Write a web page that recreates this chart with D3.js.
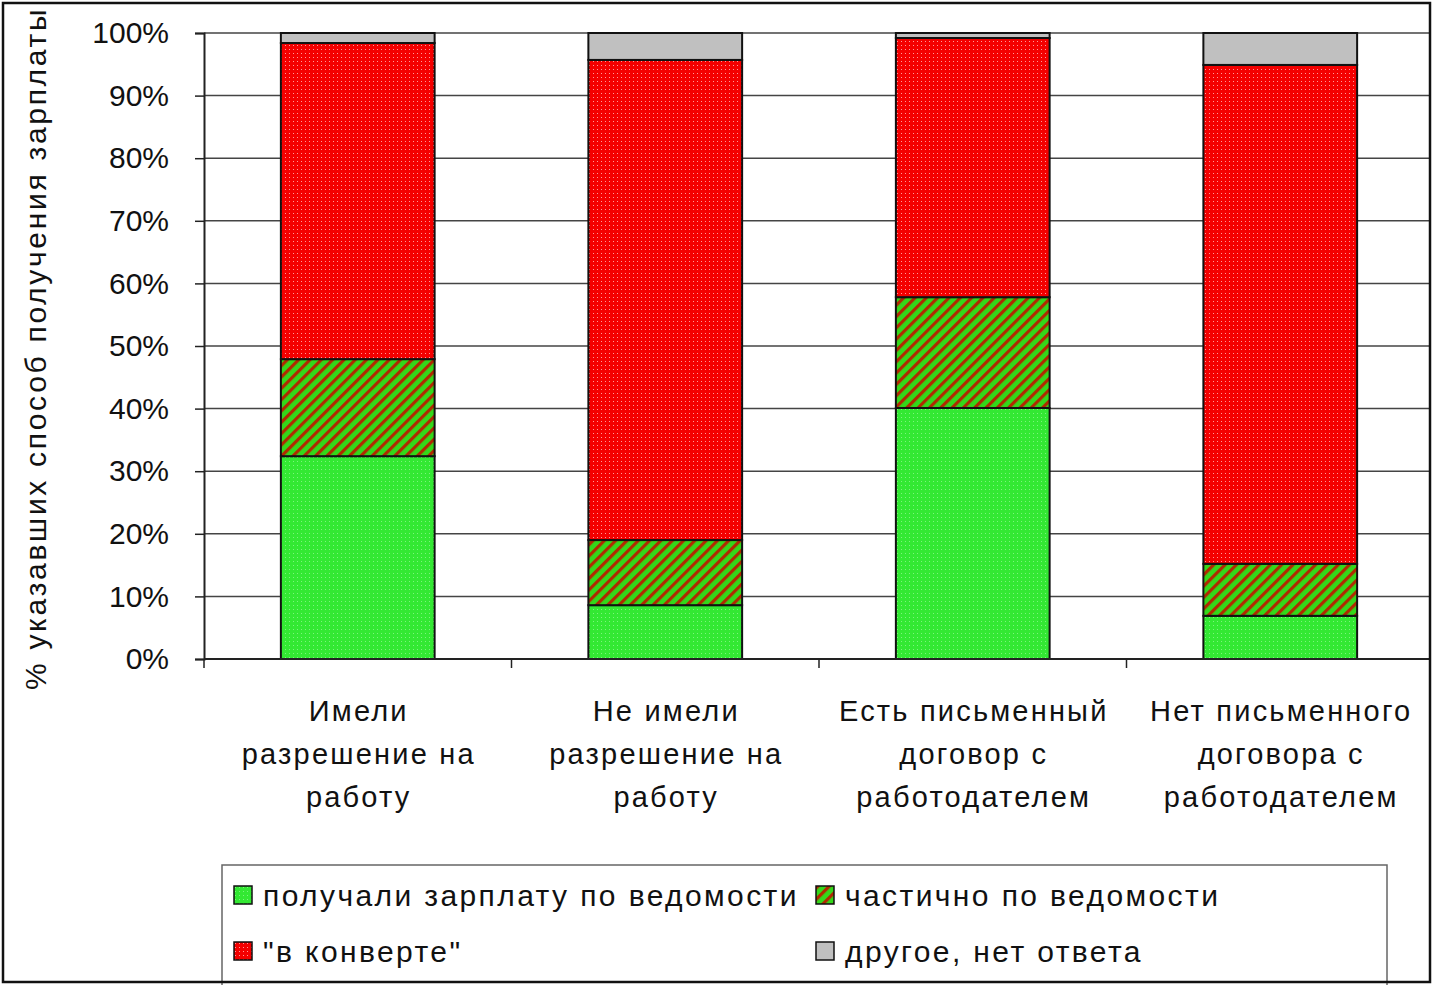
<!DOCTYPE html>
<html>
<head>
<meta charset="utf-8">
<script src="https://cdn.jsdelivr.net/npm/d3@7"></script>
<style>
  body { margin: 0; background: #fff; }
  svg { display: block; font-family: "Liberation Sans", Arial, sans-serif; }
</style>
</head>
<body>
<div id="chart"></div>
<script>
const categories = [
  ['Имели', 'разрешение на', 'работу'],
  ['Не имели', 'разрешение на', 'работу'],
  ['Есть письменный', 'договор с', 'работодателем'],
  ['Нет письменного', 'договора с', 'работодателем']
];
const seriesNames = ['получали зарплату по ведомости', 'частично по ведомости', '"в конверте"', 'другое, нет ответа'];
const official = [32.4, 8.6, 40.1, 6.9];
const partly = [15.5, 10.4, 17.7, 8.3];
const envelope = [50.5, 76.7, 41.4, 79.7];
const other = [1.6, 4.3, 0.8, 5.1];
const yTicks = [0, 10, 20, 30, 40, 50, 60, 70, 80, 90, 100];

const W = 1435, H = 985;
const m = { left: 204, top: 33, right: 1434, bottom: 659 };

const svg = d3.select('#chart').append('svg')
  .attr('width', W).attr('height', H);

// паттерны заливки
const defs = svg.append('defs');
const dots = (id, bg, dot) => {
  const p = defs.append('pattern').attr('id', id)
    .attr('width', 4).attr('height', 4).attr('patternUnits', 'userSpaceOnUse');
  p.append('rect').attr('width', 4).attr('height', 4).attr('fill', bg);
  p.append('rect').attr('x', 1).attr('y', 1).attr('width', 1).attr('height', 1).attr('fill', dot);
};
dots('pGreen', '#33e833', '#7cf57c');
dots('pRed', '#f40000', '#ff9a9a');
const hatch = defs.append('pattern').attr('id', 'pHatch')
  .attr('width', 8).attr('height', 8).attr('patternUnits', 'userSpaceOnUse')
  .attr('patternTransform', 'rotate(45)');
hatch.append('rect').attr('width', 8).attr('height', 8).attr('fill', '#33d81a');
hatch.append('rect').attr('width', 3.2).attr('height', 8).attr('fill', '#b02a00');

const fills = ['url(#pGreen)', 'url(#pHatch)', 'url(#pRed)', '#c0c0c0'];

const rows = categories.map((c, i) => ({
  key: i, s0: official[i], s1: partly[i], s2: envelope[i], s3: other[i]
}));
const stack = d3.stack().keys(['s0', 's1', 's2', 's3'])(rows);

const x = d3.scaleBand()
  .domain(categories.map((d, i) => i))
  .range([m.left, m.right])
  .paddingInner(0.5).paddingOuter(0.25);

const y = d3.scaleLinear().domain([0, 100]).range([m.bottom, m.top]);

// сетка
svg.append('g')
  .selectAll('line').data(yTicks.slice(1)).join('line')
  .attr('x1', m.left).attr('x2', 1430)
  .attr('y1', d => y(d)).attr('y2', d => y(d))
  .attr('stroke', '#444').attr('stroke-width', 1.5);

// ось Y
svg.append('g')
  .attr('transform', `translate(${m.left},0)`)
  .call(d3.axisLeft(y).tickValues(yTicks).tickFormat(d => d + '%').tickSize(9).tickPadding(26))
  .call(g => g.select('.domain').attr('stroke', '#222').attr('stroke-width', 2))
  .call(g => g.selectAll('.tick line').attr('stroke', '#222').attr('stroke-width', 1.5))
  .call(g => g.selectAll('.tick text')
    .attr('font-size', 30).attr('fill', '#111').attr('font-family', '"Liberation Sans", Arial, sans-serif'));

// столбцы
svg.append('g')
  .selectAll('g').data(stack).join('g')
  .attr('fill', (d, i) => fills[i])
  .selectAll('rect').data(d => d).join('rect')
  .attr('x', d => x(d.data.key))
  .attr('width', x.bandwidth())
  .attr('y', d => y(d[1]))
  .attr('height', d => y(d[0]) - y(d[1]))
  .attr('stroke', '#111').attr('stroke-width', 2);

// ось X
const bounds = categories.map((d, i) => x(i) - x.step() * 0.25);
svg.append('line')
  .attr('x1', m.left).attr('x2', 1430).attr('y1', m.bottom).attr('y2', m.bottom)
  .attr('stroke', '#222').attr('stroke-width', 2);
svg.append('g').selectAll('line').data(bounds).join('line')
  .attr('x1', d => d).attr('x2', d => d)
  .attr('y1', m.bottom).attr('y2', m.bottom + 9)
  .attr('stroke', '#222').attr('stroke-width', 1.5);

svg.append('g').selectAll('text').data(categories).join('text')
  .attr('x', (d, i) => x(i) + x.bandwidth() / 2 + 1)
  .attr('y', 721)
  .attr('text-anchor', 'middle')
  .attr('font-size', 29).attr('fill', '#111')
  .attr('letter-spacing', 2.2)
  .selectAll('tspan').data(d => d).join('tspan')
  .attr('x', function () { return this.parentNode.getAttribute('x'); })
  .attr('dy', (d, i) => i ? 43 : 0)
  .text(d => d);

// подпись оси Y
svg.append('text')
  .attr('transform', 'translate(46,690) rotate(-90)')
  .attr('font-size', 30).attr('fill', '#111')
  .attr('letter-spacing', 2.7)
  .text('% указавших способ получения зарплаты');

// легенда
const lg = svg.append('g');
lg.append('rect')
  .attr('x', 222).attr('y', 865).attr('width', 1165).attr('height', 140)
  .attr('fill', '#fff').attr('stroke', '#666').attr('stroke-width', 1.5);
const lx = [234, 816], ly = [886, 942];
const items = lg.selectAll('g').data(seriesNames).join('g')
  .attr('transform', (d, i) => `translate(${lx[i % 2]},${ly[Math.floor(i / 2)]})`);
items.append('rect')
  .attr('width', 18).attr('height', 18)
  .attr('fill', (d, i) => fills[i]).attr('stroke', '#111').attr('stroke-width', 1.5);
items.append('text')
  .attr('x', 29).attr('y', 20)
  .attr('font-size', 30).attr('fill', '#111')
  .attr('letter-spacing', 2.4)
  .text(d => d);

// рамка
svg.append('rect')
  .attr('x', 3).attr('y', 3).attr('width', 1427).attr('height', 979)
  .attr('fill', 'none').attr('stroke', '#111').attr('stroke-width', 2.5);
</script>
</body>
</html>
